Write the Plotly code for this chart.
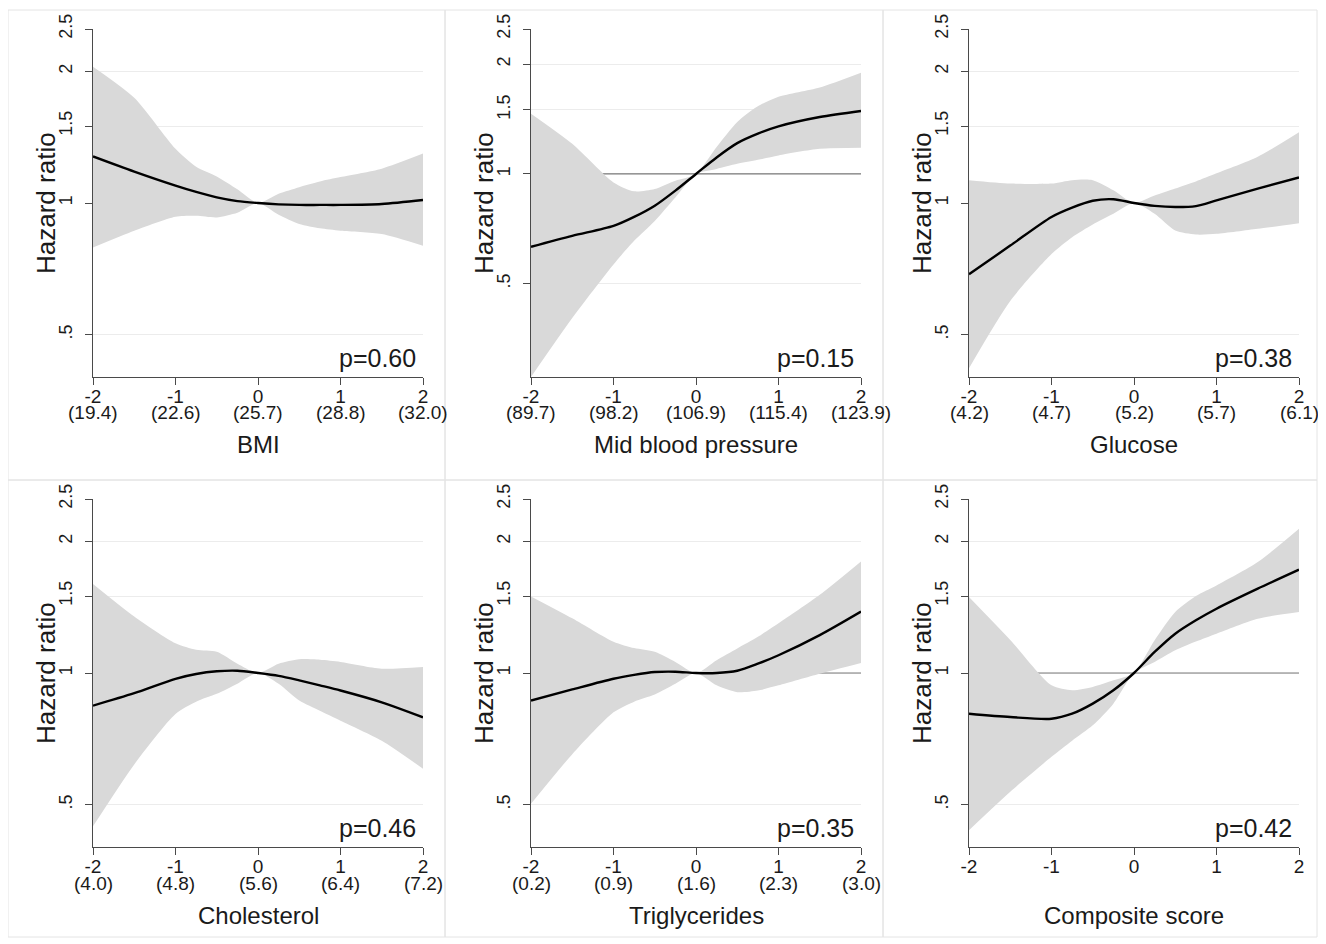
import math
import plotly.graph_objects as go

# ---------------- data ----------------
X = [-2, -1.5, -1, -0.75, -0.5, -0.25, 0, 0.25, 0.5, 0.75, 1, 1.5, 2]

bmi_hr = [1.278, 1.18, 1.096, 1.06, 1.03, 1.01, 1.0, 0.993, 0.99, 0.99, 0.99, 0.995, 1.016]
bmi_up = [2.05, 1.74, 1.33, 1.21, 1.15, 1.075, 1.0, 1.05, 1.087, 1.12, 1.146, 1.198, 1.297]
bmi_lo = [0.791, 0.864, 0.93, 0.935, 0.927, 0.95, 1.0, 0.94, 0.895, 0.875, 0.864, 0.849, 0.798]

mbp_hr = [0.631, 0.676, 0.720, 0.762, 0.818, 0.90, 1.0, 1.11, 1.215, 1.29, 1.351, 1.433, 1.489]
mbp_up = [1.464, 1.21, 0.948, 0.896, 0.909, 0.958, 1.0, 1.185, 1.389, 1.534, 1.628, 1.727, 1.896]
mbp_lo = [0.277, 0.402, 0.564, 0.655, 0.743, 0.862, 1.0, 1.032, 1.066, 1.093, 1.124, 1.172, 1.18]

glu_hr = [0.687, 0.799, 0.929, 0.976, 1.012, 1.02, 1.0, 0.985, 0.979, 0.984, 1.014, 1.079, 1.144]
glu_up = [1.128, 1.108, 1.108, 1.128, 1.128, 1.07, 1.0, 1.04, 1.079, 1.12, 1.169, 1.276, 1.452]
glu_lo = [0.419, 0.597, 0.764, 0.835, 0.893, 0.945, 1.0, 0.945, 0.865, 0.847, 0.85, 0.873, 0.899]

chol_hr = [0.842, 0.899, 0.970, 0.995, 1.009, 1.012, 1.0, 0.985, 0.962, 0.937, 0.912, 0.857, 0.792]
chol_up = [1.598, 1.346, 1.169, 1.13, 1.118, 1.05, 1.0, 1.05, 1.075, 1.072, 1.06, 1.023, 1.032]
chol_lo = [0.446, 0.618, 0.806, 0.86, 0.896, 0.945, 1.0, 0.945, 0.865, 0.82, 0.778, 0.70, 0.604]

tg_hr = [0.865, 0.917, 0.970, 0.99, 1.005, 1.007, 1.0, 1.0, 1.012, 1.05, 1.098, 1.221, 1.382]
tg_up = [1.497, 1.334, 1.179, 1.14, 1.118, 1.06, 1.0, 1.07, 1.138, 1.21, 1.299, 1.51, 1.80]
tg_lo = [0.502, 0.652, 0.813, 0.86, 0.893, 0.945, 1.0, 0.937, 0.904, 0.912, 0.937, 0.996, 1.054]

comp_hr = [0.807, 0.793, 0.786, 0.807, 0.851, 0.913, 1.0, 1.117, 1.23, 1.32, 1.403, 1.559, 1.723]
comp_up = [1.492, 1.19, 0.937, 0.913, 0.929, 0.962, 1.0, 1.188, 1.379, 1.50, 1.586, 1.794, 2.138]
comp_lo = [0.437, 0.535, 0.643, 0.70, 0.759, 0.851, 1.0, 1.06, 1.127, 1.18, 1.23, 1.331, 1.379]

x_ticks = [-2, -1, 0, 1, 2]
x_ticktext = ["-2", "-1", "0", "1", "2"]
bmi_orig = ["(19.4)", "(22.6)", "(25.7)", "(28.8)", "(32.0)"]
mbp_orig = ["(89.7)", "(98.2)", "(106.9)", "(115.4)", "(123.9)"]
glu_orig = ["(4.2)", "(4.7)", "(5.2)", "(5.7)", "(6.1)"]
chol_orig = ["(4.0)", "(4.8)", "(5.6)", "(6.4)", "(7.2)"]
tg_orig = ["(0.2)", "(0.9)", "(1.6)", "(2.3)", "(3.0)"]

y_ticks = [0.5, 1, 1.5, 2, 2.5]
y_ticktext = [".5", "1", "1.5", "2", "2.5"]
y_min_default = 0.4
REF_HR = 1

panels = [
    dict(title="BMI", hr=bmi_hr, up=bmi_up, lo=bmi_lo, p="p=0.60", orig=bmi_orig),
    dict(title="Mid blood pressure", hr=mbp_hr, up=mbp_up, lo=mbp_lo, p="p=0.15", orig=mbp_orig),
    dict(title="Glucose", hr=glu_hr, up=glu_up, lo=glu_lo, p="p=0.38", orig=glu_orig),
    dict(title="Cholesterol", hr=chol_hr, up=chol_up, lo=chol_lo, p="p=0.46", orig=chol_orig),
    dict(title="Triglycerides", hr=tg_hr, up=tg_up, lo=tg_lo, p="p=0.35", orig=tg_orig),
    dict(title="Composite score", hr=comp_hr, up=comp_up, lo=comp_lo, p="p=0.42", orig=None),
]

# ---------------- layout geometry ----------------
PAGE_OFF = 8            # default body margin of the html page
W, H = 1326 - PAGE_OFF, 944 - PAGE_OFF
col_px = [(93, 423), (531, 861), (969, 1299)]
row_px = [(29, 377), (499, 847)]
frame_cols = [(8, 445), (445, 883), (883, 1317)]
frame_rows = [(10, 480), (480, 937)]

def fx(px):
    return (px - PAGE_OFF) / W

def fy(px):
    return 1 - (px - PAGE_OFF) / H

FONT = "Liberation Sans, Arial, sans-serif"
TXT = "#1a1a1a"
AXIS_COLOR = "#4a4a4a"
BAND_COLOR = "#d9d9d9"
GRID_COLOR = "#ececec"

fig = go.Figure()
layout = dict(
    width=W, height=H,
    margin=dict(l=0, r=0, t=0, b=0, autoexpand=False),
    paper_bgcolor="white", plot_bgcolor="white",
    showlegend=False,
    font=dict(family=FONT, color=TXT),
)
annotations = []
shapes = []

for i, pnl in enumerate(panels):
    k = i + 1
    r, c = divmod(i, 3)
    xa = "x" if k == 1 else f"x{k}"
    ya = "y" if k == 1 else f"y{k}"
    xd = (fx(col_px[c][0]), fx(col_px[c][1]))
    yd = (fy(row_px[r][1]), fy(row_px[r][0]))

    # reference line at HR = 1 (under the band)
    fig.add_trace(go.Scatter(x=[X[0], X[-1]], y=[REF_HR, REF_HR], mode="lines",
                             line=dict(color="#7a7a7a", width=1.2),
                             xaxis=xa, yaxis=ya, hoverinfo="skip"))
    # confidence band
    fig.add_trace(go.Scatter(x=X, y=pnl["lo"], mode="lines",
                             line=dict(width=0, shape="spline", smoothing=0.7),
                             xaxis=xa, yaxis=ya, hoverinfo="skip"))
    fig.add_trace(go.Scatter(x=X, y=pnl["up"], mode="lines", fill="tonexty",
                             fillcolor=BAND_COLOR,
                             line=dict(width=0, shape="spline", smoothing=0.7),
                             xaxis=xa, yaxis=ya, hoverinfo="skip"))
    # hazard ratio curve
    fig.add_trace(go.Scatter(x=X, y=pnl["hr"], mode="lines",
                             line=dict(color="black", width=2.4, shape="spline", smoothing=0.8),
                             xaxis=xa, yaxis=ya))

    ymin = min(min(pnl["lo"]), y_min_default)
    ymax = max(max(pnl["up"]), y_ticks[-1])

    layout["xaxis" if k == 1 else f"xaxis{k}"] = dict(
        domain=list(xd), anchor=ya, range=[X[0], X[-1]], automargin=False,
        tickmode="array", tickvals=x_ticks, ticktext=x_ticktext,
        ticks="outside", ticklen=7, tickcolor=AXIS_COLOR, tickwidth=1.2,
        ticklabelstandoff=-5,
        showline=True, linecolor=AXIS_COLOR, linewidth=1.2,
        showgrid=False, zeroline=False,
        tickfont=dict(size=19, family=FONT, color=TXT),
        fixedrange=True,
    )
    layout["yaxis" if k == 1 else f"yaxis{k}"] = dict(
        domain=list(yd), anchor=xa, type="log", automargin=False,
        range=[math.log10(ymin), math.log10(ymax)],
        tickmode="array", tickvals=y_ticks, ticktext=y_ticktext,
        tickangle=-90,
        ticks="outside", ticklen=7, tickcolor=AXIS_COLOR, tickwidth=1.2,
        ticklabelstandoff=6,
        showline=True, linecolor=AXIS_COLOR, linewidth=1.2,
        showgrid=True, gridcolor=GRID_COLOR, gridwidth=1, zeroline=False,
        tickfont=dict(size=18, family=FONT, color=TXT),
        fixedrange=True,
    )

    # second line of x tick labels (original units)
    if pnl["orig"]:
        for tv, txt in zip(x_ticks, pnl["orig"]):
            annotations.append(dict(
                text=txt, xref=xa, yref=f"{ya} domain", x=tv, y=0, yshift=-36,
                xanchor="center", yanchor="middle", showarrow=False,
                font=dict(size=19, family=FONT, color=TXT)))
    # x title
    annotations.append(dict(
        text=pnl["title"], xref=f"{xa} domain", yref=f"{ya} domain",
        x=0.5, y=0, yshift=-68, xanchor="center", yanchor="middle", showarrow=False,
        font=dict(size=24, family=FONT, color=TXT)))
    # y title
    annotations.append(dict(
        text="Hazard ratio", xref=f"{xa} domain", yref=f"{ya} domain",
        x=0, xshift=-47, y=0.5, textangle=-90, xanchor="center", yanchor="middle",
        showarrow=False, font=dict(size=26, family=FONT, color=TXT)))
    # p-value
    annotations.append(dict(
        text=pnl["p"], xref=f"{xa} domain", yref=f"{ya} domain",
        x=1, xshift=-5, y=0, yshift=19, xanchor="right", yanchor="middle",
        showarrow=False, font=dict(size=25, family=FONT, color=TXT)))

    # faint panel frame
    fx0, fx1 = frame_cols[c]
    fy0, fy1 = frame_rows[r]
    shapes.append(dict(type="rect", xref="paper", yref="paper",
                       x0=fx(fx0), x1=fx(fx1), y0=fy(fy1), y1=fy(fy0),
                       line=dict(color="#e4e4e4", width=1), layer="below"))

layout["annotations"] = annotations
layout["shapes"] = shapes
fig.update_layout(**layout)
fig.write_html("out.html")
